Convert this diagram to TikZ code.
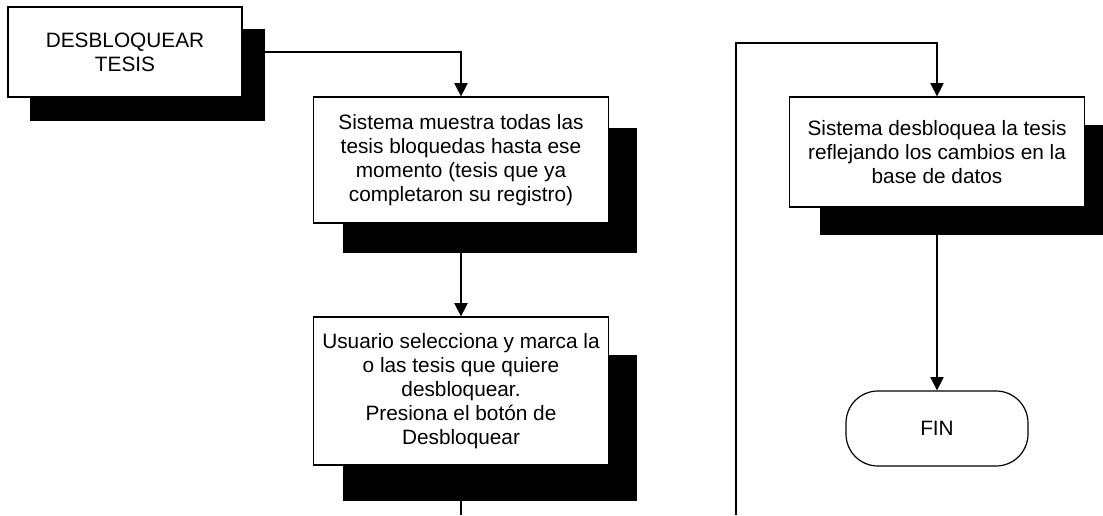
\documentclass[tikz,border=0pt]{standalone}
\usepackage{fontspec}
\setmainfont{Liberation Sans}
\usetikzlibrary{arrows.meta}
\begin{document}
\begin{tikzpicture}[x=0.75pt,y=-0.75pt,
  txt/.style={font=\fontsize{15.6}{18}\selectfont, align=center},
  proc/.style={txt, draw=black, fill=white, line width=0.9pt, inner sep=0pt},
  shad/.style={fill=black, inner sep=0pt},
  term/.style={txt, draw=black, fill=white, line width=0.9pt, rounded corners=24pt, inner sep=0pt},
  conn/.style={line width=0.8pt, -{Triangle[length=10pt,width=10pt]}},
  plain/.style={line width=0.8pt}]
\useasboundingbox (0,0) rectangle (1103,515);
\clip (0,0) rectangle (1103,515);
% shadows
\node[shad, minimum width=176.25pt, minimum height=69pt] (s1) at (147.5,75) {};
\node[shad, minimum width=220.5pt, minimum height=93.75pt] (s2) at (490,190.5) {};
\node[shad, minimum width=220.5pt, minimum height=109.5pt] (s3) at (490,428) {};
\node[shad, minimum width=221.25pt, minimum height=82.5pt] (s4) at (967.5,180) {};
% boxes
\node[proc, minimum width=175.5pt, minimum height=67.5pt] (b1) at (125,52) {DESBLOQUEAR\\TESIS};
\node[proc, minimum width=221.25pt, minimum height=94.5pt] (b2) at (461,160) {Sistema muestra todas las\\tesis bloquedas hasta ese\\momento (tesis que ya\\completaron su registro)};
\node[proc, minimum width=221.25pt, minimum height=111pt] (b3) at (461,391) {Usuario selecciona y marca la\\o las tesis que quiere\\desbloquear.\\Presiona el botón de\\Desbloquear};
\node[proc, minimum width=221.25pt, minimum height=82.5pt] (b4) at (937,152) {Sistema desbloquea la tesis\\reflejando los cambios en la\\base de datos};
\node[term, minimum width=136.5pt, minimum height=56.25pt] (fin) at (937,428.5) {FIN};
% free ends
\coordinate (e3) at (461,515);
\coordinate (e4) at (736,515);
\coordinate (top4) at (736,43);
% connectors
\draw[conn] (s1.east |- b1.east) -| (b2.north);
\draw[conn] (b2.south) -- (b3.north);
\draw[plain] (b3.south) -- (e3);
\draw[conn] (e4) -- (top4) -| (b4.north);
\draw[conn] (b4.south) -- (fin.north);
\end{tikzpicture}
\end{document}
